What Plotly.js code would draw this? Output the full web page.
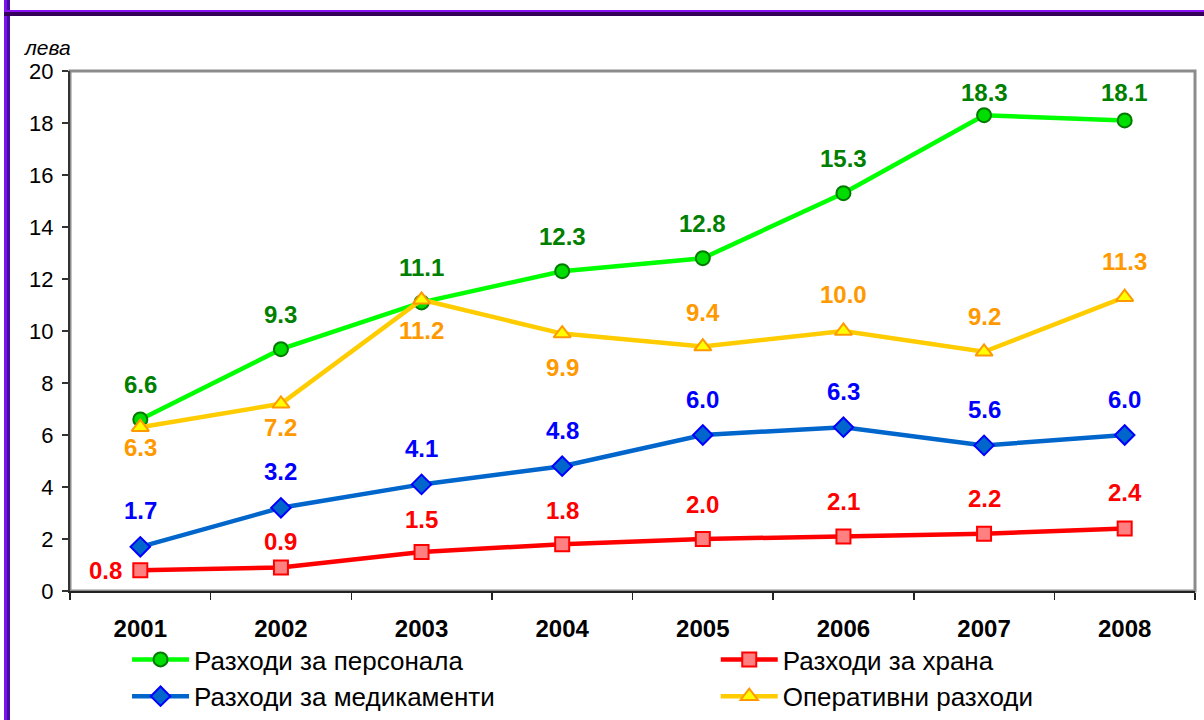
<!DOCTYPE html>
<html>
<head>
<meta charset="utf-8">
<script src="https://cdn.plot.ly/plotly-3.0.1.min.js"></script>
<style>
  html, body { margin: 0; padding: 0; background: #fff; }
  #wrap { position: relative; width: 1204px; height: 720px; overflow: hidden; }
  #chart { position: absolute; left: 0; top: 0; width: 1204px; height: 720px; }
  .bar { position: absolute; pointer-events: none; }
</style>
</head>
<body>
<div id="wrap">
  <div id="chart"></div>
  <div class="bar" style="left:4px;top:0;width:3px;height:720px;background:#7a12ee;"></div>
  <div class="bar" style="left:7px;top:0;width:3px;height:720px;background:#4a0aa0;"></div>
  <div class="bar" style="left:4px;top:10px;width:1200px;height:2px;background:#8a10f5;"></div>
  <div class="bar" style="left:4px;top:12px;width:1200px;height:4px;background:#35005a;"></div>
</div>
<script>
// ---- data ----
const years = ['2001', '2002', '2003', '2004', '2005', '2006', '2007', '2008'];
const personnel = [6.6, 9.3, 11.1, 12.3, 12.8, 15.3, 18.3, 18.1];
const food = [0.8, 0.9, 1.5, 1.8, 2.0, 2.1, 2.2, 2.4];
const medication = [1.7, 3.2, 4.1, 4.8, 6.0, 6.3, 5.6, 6.0];
const operational = [6.3, 7.2, 11.2, 9.9, 9.4, 10.0, 9.2, 11.3];
const seriesNames = ['Разходи за персонала', 'Разходи за храна', 'Разходи за медикаменти', 'Оперативни разходи'];
const yUnit = 'лева';

// ---- label placement (style, not data) ----
const opSide = [-1, -1, -1, -1, 1, 1, 1, 1];
const opShift = [20, 24, 31, 34, 34, 37, 35, 36];
const foodShift = [0, 26, 33, 34, 35, 35, 35, 36];

const FONT = 'Arial, "Liberation Sans", sans-serif';
const PX_PER_UNIT = 26;

function mk(name, y, lineColor, sym, fill, edge, size, legend) {
  return {
    type: 'scatter', mode: 'lines+markers', name: name, x: years, y: y,
    line: { color: lineColor, width: 4.5 },
    marker: { symbol: sym, size: size, color: fill, line: { color: edge, width: 2 } },
    cliponaxis: false, legend: legend
  };
}

const traces = [
  mk(seriesNames[0], personnel, '#00ff00', 'circle', '#00dd00', '#007a00', 14, 'legend'),
  mk(seriesNames[1], food, '#ff0000', 'square', '#ff8080', '#ff0000', 14, 'legend2'),
  mk(seriesNames[2], medication, '#0066cc', 'diamond', '#0066cc', '#0000ff', 15, 'legend'),
  mk(seriesNames[3], operational, '#ffcc00', 'triangle-up', '#ffff00', '#ff9900', 15, 'legend2')
];

const annotations = [];
function lab(i, y, color, yshift, xshift) {
  annotations.push({
    x: i, y: y, xref: 'x', yref: 'y', text: '<b>' + y.toFixed(1) + '</b>', showarrow: false,
    xanchor: 'center', yanchor: 'middle', yshift: yshift, xshift: xshift || 0,
    font: { family: FONT, size: 24, color: color }
  });
}
years.forEach((yr, i) => {
  const p = personnel[i];
  lab(i, p, '#008000', Math.min(35, 499 - p * PX_PER_UNIT));
  lab(i, medication[i], '#0000ff', 36);
  if (i === 0) lab(i, food[i], '#ff0000', 0, -35);
  else lab(i, food[i], '#ff0000', foodShift[i]);
  lab(i, operational[i], '#ff9900', opSide[i] * opShift[i]);
});

annotations.push({
  xref: 'paper', yref: 'paper', x: -0.0427, y: 1.046, xanchor: 'left', yanchor: 'middle',
  text: '<i>' + yUnit + '</i>', showarrow: false,
  font: { family: FONT, size: 21, color: '#000' }
});

const legendBase = {
  orientation: 'v', y: -0.0865, xanchor: 'left', yanchor: 'top',
  itemwidth: 57, font: { family: FONT, size: 26, color: '#000' },
  bgcolor: 'rgba(0,0,0,0)', traceorder: 'normal', borderwidth: 0
};

const layout = {
  width: 1204, height: 720,
  margin: { l: 70, r: 9, t: 71, b: 129, autoexpand: false },
  paper_bgcolor: '#ffffff', plot_bgcolor: '#ffffff',
  font: { family: FONT, color: '#000' },
  showlegend: true,
  legend: Object.assign({}, legendBase, { x: 0.0507 }),
  legend2: Object.assign({}, legendBase, { x: 0.574 }),
  xaxis: {
    type: 'category', range: [-0.5, 7.5], tickson: 'boundaries',
    ticks: 'outside', ticklen: 7, tickcolor: '#222', tickwidth: 1.5,
    showline: true, linecolor: '#222', linewidth: 2, showgrid: false, zeroline: false,
    tickfont: { family: FONT, size: 24, color: '#000', weight: 'bold' },
    ticklabelstandoff: 15, fixedrange: true
  },
  yaxis: {
    range: [0, 20], dtick: 2, tick0: 0,
    ticks: 'outside', ticklen: 6, tickcolor: '#333', tickwidth: 1.5,
    showline: true, linecolor: '#333', linewidth: 2, showgrid: false, zeroline: false,
    tickfont: { family: FONT, size: 22, color: '#000' },
    ticklabelstandoff: 4, fixedrange: true
  },
  shapes: [{
    type: 'rect', xref: 'paper', yref: 'paper', x0: 0, x1: 1, y0: 0, y1: 1,
    line: { color: '#8c8c8c', width: 3 }, layer: 'below'
  }],
  annotations: annotations
};

Plotly.newPlot('chart', traces, layout, { displayModeBar: false, staticPlot: true });
</script>
</body>
</html>
